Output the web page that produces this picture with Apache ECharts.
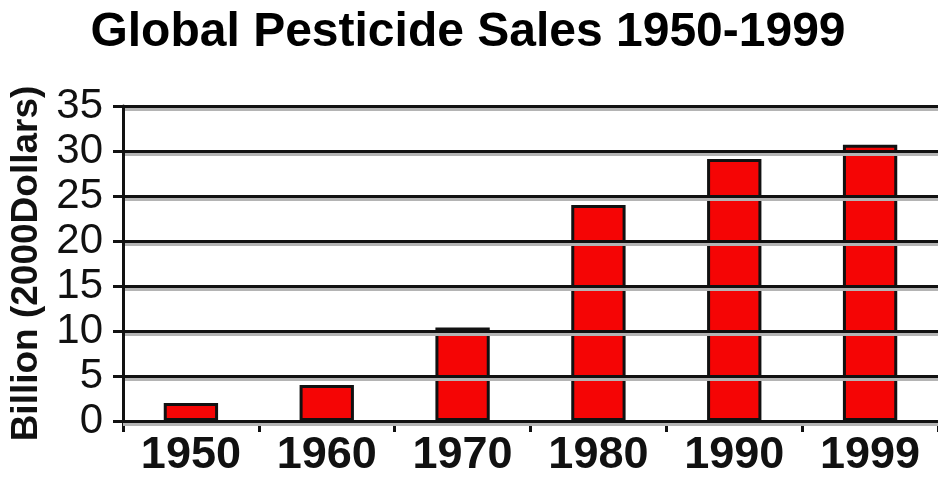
<!DOCTYPE html>
<html>
<head>
<meta charset="utf-8">
<script src="https://cdn.jsdelivr.net/npm/echarts@6/dist/echarts.min.js"></script>
<style>
  html, body { margin: 0; padding: 0; background: #fff; }
  #chart { width: 938px; height: 478px; }
</style>
</head>
<body>
<div id="chart"></div>
<script>
// data
var years = ['1950', '1960', '1970', '1980', '1990', '1999']
var sales = [2.0, 4.0, 10.4, 24.0, 29.1, 30.7]
var yTicks = [0, 5, 10, 15, 20, 25, 30, 35]

var chart = echarts.init(document.getElementById('chart'))
var font = '"Liberation Sans", Arial, sans-serif'

chart.setOption({
  animation: false,
  backgroundColor: '#fff',
  title: {
    text: 'Global Pesticide Sales 1950-1999',
    left: 463,
    top: 4,
    textAlign: 'center',
    textStyle: { fontFamily: font, fontSize: 48, fontWeight: 'bold', color: '#000' }
  },
  grid: { left: 123, right: 0, top: 106, bottom: 52 },
  xAxis: {
    type: 'category',
    data: years,
    axisLine: { lineStyle: { color: '#111', width: 3 } },
    axisTick: { show: true, length: 11, lineStyle: { color: '#111', width: 3 } },
    axisLabel: { fontFamily: font, fontSize: 45, fontWeight: 'bold', color: '#111', margin: 12 }
  },
  yAxis: {
    type: 'value',
    min: yTicks[0],
    max: yTicks[yTicks.length - 1],
    interval: 5,
    z: 5,
    name: 'Billion (2000Dollars)',
    nameLocation: 'middle',
    nameGap: 78,
    nameTextStyle: { fontFamily: font, fontSize: 37, fontWeight: 'bold', color: '#111' },
    axisLine: { show: true, lineStyle: { color: '#111', width: 3 } },
    axisTick: { show: true, length: 10, lineStyle: { color: '#111', width: 3 } },
    axisLabel: { fontFamily: font, fontSize: 42, color: '#111', margin: 20 },
    splitLine: {
      show: true,
      lineStyle: { color: '#111', width: 3, shadowColor: '#b4b4b4', shadowOffsetY: 3, shadowBlur: 0 }
    }
  },
  series: [{
    type: 'bar',
    data: sales,
    barWidth: '40%',
    itemStyle: { color: '#f50505', borderColor: '#111', borderWidth: 3 }
  }]
})
</script>
</body>
</html>
